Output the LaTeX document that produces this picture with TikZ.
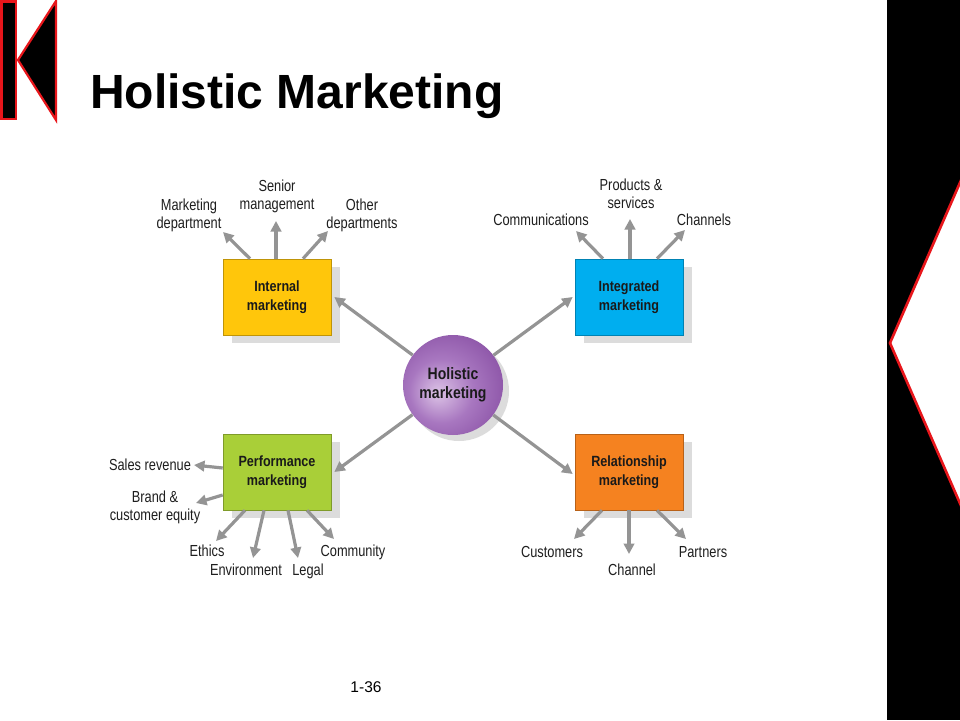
\documentclass[tikz,border=0pt]{standalone}
\usepackage{fontspec}
\setmainfont{Liberation Sans}
\newfontfamily\condreg[FakeStretch=0.8]{Liberation Sans}
\newfontfamily\condbold[FakeStretch=0.85]{Liberation Sans Bold}
\usetikzlibrary{arrows.meta,calc,shadows}
\definecolor{arrgray}{HTML}{949494}
\definecolor{txt}{HTML}{1E1E1E}
\definecolor{btxt}{HTML}{1A1A1A}
\definecolor{cyel}{HTML}{FFC60B}
\definecolor{cblu}{HTML}{00AEEF}
\definecolor{cgrn}{HTML}{A9CF38}
\definecolor{corg}{HTML}{F58220}
\definecolor{shad}{HTML}{DCDCDC}
\definecolor{holin}{HTML}{DCC3E6}
\definecolor{holmid}{HTML}{A877C0}
\definecolor{holout}{HTML}{71338F}
\definecolor{redline}{HTML}{E8161B}
\pgfdeclareradialshading{holshade}{\pgfpoint{-8bp}{-4bp}}{color(0bp)=(holin); color(16bp)=(holmid); color(46bp)=(holout); color(60bp)=(holout)}
\tikzset{
  mbox/.style={draw=#1!75!black, line width=0.6pt, fill=#1, minimum width=108pt, minimum height=76pt, inner sep=0pt, align=center, text=btxt,
    font=\condbold\fontsize{14.8}{18.5}\selectfont,
    drop shadow={shadow xshift=9pt, shadow yshift=-8pt, fill=shad, opacity=1}},
  lbl/.style={inner sep=0pt, align=center, text=txt, font=\condreg\fontsize{16}{18}\selectfont},
  arr/.style={draw=arrgray, line width=3.2pt, -{Triangle[length=10.5pt,width=10.5pt]}},
}
\begin{document}
\begin{tikzpicture}[x=1pt,y=-1pt]
\useasboundingbox (0,0) rectangle (960,720);
\fill[white] (0,0) rectangle (960,720);
% left logo
\draw[redline, fill=black, line width=2.2pt] (1.5,1.5) rectangle (16,119);
\draw[redline, fill=black, line width=2.2pt, line join=miter] (56,1) -- (18,60) -- (56,120) -- cycle;
% right band
\fill[black] (887,0) rectangle (960,720);
\draw[redline, fill=white, line width=2.6pt, line join=miter] (962,178) -- (890,343) -- (962,508);
% title
\node[anchor=base west, inner sep=0pt, font=\bfseries\fontsize{48}{56}\selectfont] (title) at (90,108) {Holistic Marketing};
% centre circle
\fill[shad] (459,391) circle (50);
\node[circle, minimum size=100pt, inner sep=0pt, shading=holshade, align=center, text=btxt,
  font=\condbold\fontsize{16.5}{19.5}\selectfont] (hol) at (453,385) {Holistic\\marketing};
% boxes
\node[mbox=cyel] (intm) at (277,297) {Internal\\marketing};
\node[mbox=cblu] (integ) at (629,297) {Integrated\\marketing};
\node[mbox=cgrn] (perf) at (277,472) {Performance\\marketing};
\node[mbox=corg] (rel) at (629,472) {Relationship\\marketing};
% centre arrows
\draw[arr] (hol) -- ($(intm.east)+(3,0)$);
\draw[arr] (hol) -- ($(integ.west)+(-2,0)$);
\draw[arr] (hol) -- ($(perf.east)+(3,0)$);
\draw[arr] (hol) -- ($(rel.west)+(-2,2)$);
% labels internal
\node[lbl] (mdep) at (189,215) {Marketing\\department};
\node[lbl] (smgt) at (277,196) {Senior\\management};
\node[lbl] (odep) at (362,215) {Other\\departments};
% labels integrated
\node[lbl, anchor=base] (comm) at (541,225) {Communications};
\node[lbl] (prod) at (631,194) {Products \&\\services};
\node[lbl, anchor=base] (chan) at (704,225) {Channels};
% labels performance
\node[lbl, anchor=base] (sales) at (150,470) {Sales revenue};
\node[lbl] (brand) at (155,507) {Brand \&\\customer equity};
\node[lbl, anchor=base] (eth) at (207,556) {Ethics};
\node[lbl, anchor=base] (env) at (246,575) {Environment};
\node[lbl, anchor=base] (legal) at (308,575) {Legal};
\node[lbl, anchor=base] (commu) at (353,556) {Community};
% labels relationship
\node[lbl, anchor=base] (cust) at (552,557) {Customers};
\node[lbl, anchor=base] (chnl) at (632,575) {Channel};
\node[lbl, anchor=base] (part) at (703,557) {Partners};
% tips
\coordinate (t1) at (223,232);
\coordinate (t2) at (276,221);
\coordinate (t3) at (328,231);
\coordinate (t4) at (576,231);
\coordinate (t5) at (630,219);
\coordinate (t6) at (685,230);
\coordinate (t7) at (194,465);
\coordinate (t8) at (196,503);
\coordinate (t9) at (216,541);
\coordinate (t10) at (253,558);
\coordinate (t11) at (298,558);
\coordinate (t12) at (334,539);
\coordinate (t13) at (574,539);
\coordinate (t14) at (629,554);
\coordinate (t15) at (686,539);
% sub arrows
\draw[arr] ($(intm.north)+(-27,0)$) -- (t1);
\draw[arr] ($(intm.north)+(-1,0)$) -- (t2);
\draw[arr] ($(intm.north)+(26,0)$) -- (t3);
\draw[arr] ($(integ.north)+(-26,0)$) -- (t4);
\draw[arr] ($(integ.north)+(1,0)$) -- (t5);
\draw[arr] ($(integ.north)+(28,0)$) -- (t6);
\draw[arr] ($(perf.west)+(0,-4)$) -- (t7);
\draw[arr] ($(perf.west)+(0,23)$) -- (t8);
\draw[arr] ($(perf.south)+(-32,0)$) -- (t9);
\draw[arr] ($(perf.south)+(-13,0)$) -- (t10);
\draw[arr] ($(perf.south)+(11,0)$) -- (t11);
\draw[arr] ($(perf.south)+(30,0)$) -- (t12);
\draw[arr] ($(rel.south)+(-27,0)$) -- (t13);
\draw[arr] ($(rel.south)+(0,0)$) -- (t14);
\draw[arr] ($(rel.south)+(28,0)$) -- (t15);
% page number
\node[anchor=base, inner sep=0pt, font=\fontsize{15.5}{18}\selectfont] (pg) at (366,692) {1-36};
\end{tikzpicture}
\end{document}
